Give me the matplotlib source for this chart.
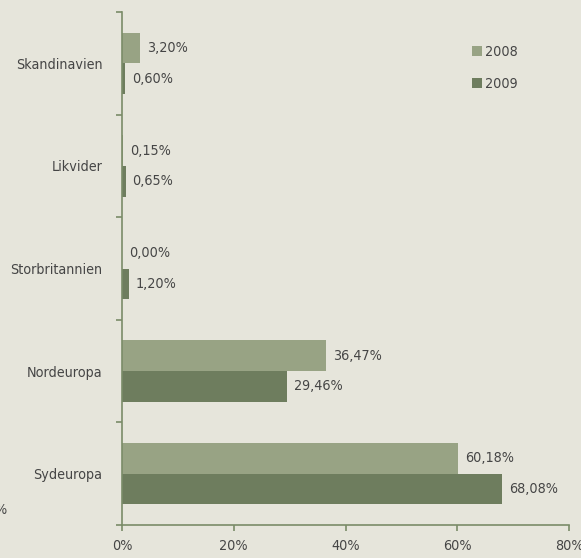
import matplotlib
matplotlib.use("Agg")
import matplotlib.pyplot as plt
import numpy as np

# DATA
categories = ["Skandinavien", "Likvider", "Storbritannien", "Nordeuropa", "Sydeuropa"]
values_2008 = [3.20, 0.15, 0.00, 36.47, 60.18]
values_2009 = [0.60, 0.65, 1.20, 29.46, 68.08]
series_labels = ["2008", "2009"]
x_ticks = [0, 20, 40, 60, 80]

bg = "#e6e5db"
c_2008 = "#98a384"
c_2009 = "#6e7d5e"
axis_col = "#7a8c68"
txt = "#454545"

plt.rcParams['font.family'] = ['DejaVu Sans']
plt.rcParams['font.stretch'] = 'condensed'

fig = plt.figure(figsize=(5.81, 5.58), dpi=100, facecolor=bg)
ax = fig.add_axes([122 / 581, 1 - 525 / 558, (569 - 122) / 581, (525 - 12) / 558])
ax.set_facecolor(bg)

y = np.arange(len(categories))
h = 0.3
ax.barh(y - h / 2, values_2008, height=h, color=c_2008, label=series_labels[0])
ax.barh(y + h / 2, values_2009, height=h, color=c_2009, label=series_labels[1])

fs = 10.3
for i in range(len(categories)):
    ax.text(values_2008[i] + 1.25, y[i] - h / 2, f"{values_2008[i]:.2f}%".replace(".", ","),
            va="center", ha="left", fontsize=fs, color=txt)
    ax.text(values_2009[i] + 1.25, y[i] + h / 2, f"{values_2009[i]:.2f}%".replace(".", ","),
            va="center", ha="left", fontsize=fs, color=txt)

ax.set_xlim(0, 80)
ax.set_ylim(len(categories) - 0.5, -0.5)
ax.set_xticks(x_ticks)
ax.set_xticklabels([f"{t}%" for t in x_ticks], fontsize=fs, color=txt)
ax.set_yticks(y)
ax.set_yticklabels(categories, fontsize=fs, color=txt)
ax.set_yticks(np.arange(-0.5, len(categories) + 0.5, 1), minor=True)

ax.tick_params(axis="y", which="major", length=0, pad=14)
ax.tick_params(axis="y", which="minor", length=4, width=1.2, color=axis_col, direction="out")
ax.tick_params(axis="x", which="major", length=4, width=1.2, color=axis_col, pad=6)

for s in ["top", "right"]:
    ax.spines[s].set_visible(False)
for s in ["left", "bottom"]:
    ax.spines[s].set_color(axis_col)
    ax.spines[s].set_linewidth(1.2)

leg = ax.legend(loc="upper left", bbox_to_anchor=(0.77, 0.946), frameon=False,
                fontsize=fs, handlelength=0.7, handleheight=0.7, handletextpad=0.2,
                labelspacing=1.2, labelcolor=txt, borderaxespad=0)

fig.text(6 / 581, 1 - 510 / 558, "%", ha="right", va="center", fontsize=fs, color=txt)

fig.savefig("out.png", dpi=100, facecolor=bg)
